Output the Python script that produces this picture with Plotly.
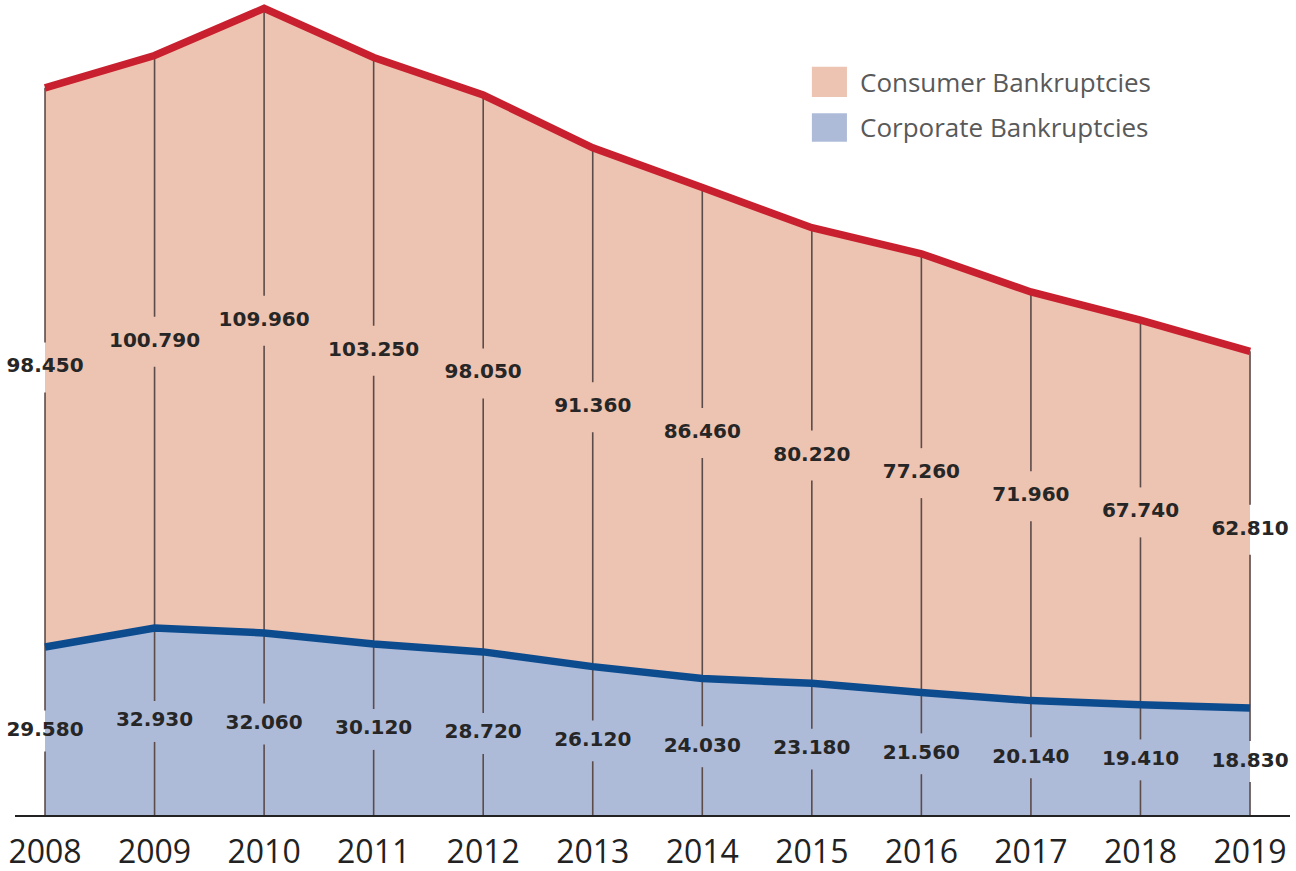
import plotly.graph_objects as go

years = [2008, 2009, 2010, 2011, 2012, 2013, 2014, 2015, 2016, 2017, 2018, 2019]
consumer = [98450, 100790, 109960, 103250, 98050, 91360, 86460, 80220, 77260, 71960, 67740, 62810]
corporate = [29580, 32930, 32060, 30120, 28720, 26120, 24030, 23180, 21560, 20140, 19410, 18830]
series_names = ["Consumer Bankruptcies", "Corporate Bankruptcies"]

total = [a + b for a, b in zip(consumer, corporate)]
corp_mid = [c / 2 for c in corporate]
cons_mid = [c + s / 2 for c, s in zip(corporate, consumer)]

CONS_FILL = "#EDC3B1"
CORP_FILL = "#AEBBD8"
RED = "#C8202E"
BLUE = "#0D4B8F"
GRID = "#5b4b49"
GAP_CONS = 4400
GAP_CORP = 3600

fig = go.Figure()

fig.add_trace(go.Scatter(x=years, y=corporate, mode="lines", fill="tozeroy",
                         fillcolor=CORP_FILL, line=dict(width=0), hoverinfo="skip",
                         showlegend=False))
fig.add_trace(go.Scatter(x=years, y=total, mode="lines", fill="tonexty",
                         fillcolor=CONS_FILL, line=dict(width=0), hoverinfo="skip",
                         showlegend=False))

# vertical grid segments with gaps around labels
gx, gy = [], []
for x, cm, sm, t in zip(years, corp_mid, cons_mid, total):
    gx += [x, x, None, x, x, None, x, x, None]
    gy += [0, cm - GAP_CORP, None, cm + GAP_CORP, sm - GAP_CONS, None, sm + GAP_CONS, t, None]
fig.add_trace(go.Scatter(x=gx, y=gy, mode="lines", line=dict(color=GRID, width=1.6),
                         hoverinfo="skip", showlegend=False))

fig.add_trace(go.Scatter(x=years, y=corporate, mode="lines", line=dict(color=BLUE, width=7.5),
                         showlegend=False))
fig.add_trace(go.Scatter(x=years, y=total, mode="lines", line=dict(color=RED, width=7.5),
                         showlegend=False))

fig.add_trace(go.Scatter(x=years, y=cons_mid, mode="text",
                         text=[f"{v/1000:.3f}" for v in consumer],
                         textposition="middle center",
                         textfont=dict(family="DejaVu Sans", size=20, color="#262626", weight="bold"),
                         cliponaxis=False, showlegend=False))
fig.add_trace(go.Scatter(x=years, y=corp_mid, mode="text",
                         text=[f"{v/1000:.3f}" for v in corporate],
                         textposition="middle center",
                         textfont=dict(family="DejaVu Sans", size=20, color="#262626", weight="bold"),
                         cliponaxis=False, showlegend=False))

# custom legend
legend_items = [(series_names[0], CONS_FILL, 0.881, 0.918, 0.899),
                (series_names[1], CORP_FILL, 0.826, 0.861, 0.844)]
for name, col, y0, y1, yt in legend_items:
    fig.add_shape(type="rect", xref="paper", yref="paper", x0=0.625, x1=0.6525, y0=y0, y1=y1,
                  fillcolor=col, line=dict(width=0))
    fig.add_annotation(xref="paper", yref="paper", x=0.661, y=yt, text=name, showarrow=False,
                       xanchor="left", yanchor="middle",
                       font=dict(family="Open Sans", size=26, color="#595959"))

fig.update_layout(
    width=1296, height=871,
    margin=dict(l=15, r=6, t=0, b=56),
    paper_bgcolor="white", plot_bgcolor="white",
    xaxis=dict(range=[2007.726, 2019.365], tickvals=years, ticktext=[str(y) for y in years],
               showgrid=False, zeroline=False, showline=True, linecolor="#222222", linewidth=2,
               ticks="", tickfont=dict(family="Open Sans", size=32, color="#222222"),
               ticklabelstandoff=8),
    yaxis=dict(range=[0, 143500], visible=False, showgrid=False, zeroline=False),
)

fig.write_html("out.html", config={"displayModeBar": False},
               post_script="document.body.style.margin='0';document.body.style.overflow='hidden';")
